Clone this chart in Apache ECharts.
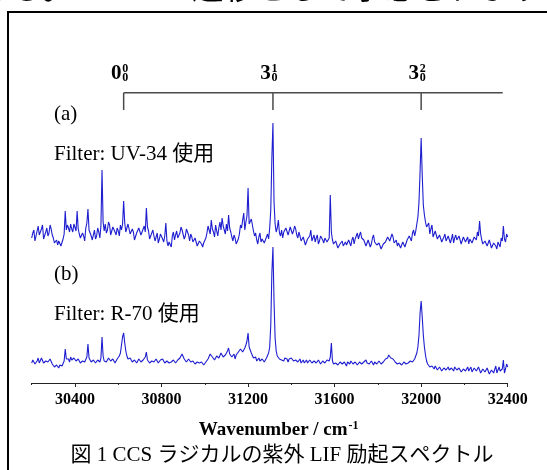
<!DOCTYPE html>
<html><head><meta charset="utf-8">
<script src="https://cdn.jsdelivr.net/npm/echarts@6/dist/echarts.min.js"></script>
<style>html,body{margin:0;padding:0;background:#fff;}#c{width:547px;height:470px;}</style>
</head><body><div id="c"></div>
<script>
// ---- data ----
const wnStart = 30200;   // first sample (cm-1)
const wnStep = 5;        // sample spacing (cm-1)
// (a) Filter: UV-34  (one row = 100 cm-1)
const spectrumA = [
 12,17,20,9,14,19,24,15,16,21,25,11,13,18,22,14,17,25,21,15,
 12,7,8,10,5,9,7,4,6,11,16,39,20,25,22,18,26,21,18,26,
 24,19,39,21,16,12,10,17,14,9,22,27,41,20,18,14,10,15,20,11,
 14,22,18,12,24,80,28,19,26,17,20,28,25,15,17,23,22,18,15,22,
 19,14,25,20,26,49,27,18,20,26,24,16,14,21,18,10,12,17,16,22,
 20,15,13,21,24,18,42,23,19,11,12,17,20,14,9,13,17,7,11,16,
 15,11,8,14,27,9,4,8,6,3,14,18,10,15,19,12,13,17,23,20,
 18,11,14,21,20,15,9,16,13,8,6,12,11,4,5,9,10,6,3,7,
 8,12,17,24,22,16,30,21,18,13,25,19,14,22,28,20,32,24,20,16,
 26,19,35,22,18,13,9,15,12,6,7,11,16,25,22,30,37,20,28,34,
 62,26,24,31,30,19,14,17,10,6,13,17,8,11,12,7,9,13,16,11,
 22,40,92,127,48,26,18,22,30,17,14,20,12,18,16,22,20,15,17,23,
 23,16,19,24,21,15,12,18,14,9,8,13,12,5,7,11,10,14,20,9,
 11,15,8,12,15,6,9,14,13,10,7,12,14,8,10,12,55,18,10,6,
 5,9,7,2,3,6,6,9,4,3,8,5,5,10,7,4,10,13,6,11,
 14,17,11,15,18,12,13,10,8,4,5,10,9,3,6,12,15,8,9,5,
 3,7,5,1,2,6,4,8,10,13,15,9,11,16,13,7,8,10,4,7,
 6,2,3,8,7,3,4,10,9,14,12,9,17,20,14,19,26,33,48,78,
 112,75,45,35,28,23,22,27,16,21,25,13,12,19,18,11,9,15,14,8,
 10,13,16,9,8,14,13,7,11,16,7,12,15,10,9,14,12,6,8,13,
 14,8,10,13,6,11,12,7,9,13,15,10,18,14,29,16,10,6,4,9,
 8,4,2,10,6,2,3,7,9,4,1,8,7,3,12,9,24,11,8,16,
 13
];
// (b) Filter: R-70  (one row = 100 cm-1)
const spectrumB = [
 20,23,24,19,19,22,25,20,21,25,23,20,19,22,24,21,20,24,22,19,
 18,16,17,18,16,15,18,17,17,19,22,34,24,23,24,21,26,23,22,25,
 25,22,21,24,23,20,20,22,24,21,22,26,39,25,23,21,21,23,24,20,
 20,23,22,21,25,46,27,22,24,21,22,25,26,22,21,24,24,20,22,24,
 24,27,30,38,46,50,40,32,27,24,22,25,24,21,20,23,23,20,21,24,
 24,21,20,23,25,26,31,23,22,20,19,22,23,21,20,24,24,20,21,23,
 22,24,25,20,19,22,23,20,18,21,20,23,24,20,21,23,23,25,26,29,
 30,24,22,21,20,24,23,21,19,22,21,19,18,21,22,20,19,21,20,18,
 18,21,22,24,25,29,30,26,26,23,24,27,28,25,26,30,29,26,25,28,
 30,32,35,29,28,26,26,29,24,28,27,31,30,34,36,31,33,35,38,42,
 50,36,33,30,28,25,24,26,22,24,25,22,21,24,23,21,22,25,26,30,
 36,58,110,136,82,45,32,27,26,24,26,23,25,22,25,23,24,21,24,22,
 25,23,22,24,23,21,21,23,24,20,22,23,20,22,23,20,21,23,22,20,
 20,22,23,20,21,23,22,19,19,22,22,20,20,23,21,22,26,40,22,19,
 18,20,21,18,19,21,22,19,18,21,20,17,21,20,19,22,22,19,18,21,
 21,18,19,21,22,19,18,21,21,23,20,18,19,21,22,20,18,21,20,19,
 19,22,21,19,18,21,22,24,26,25,28,27,25,26,24,22,21,23,19,20,
 20,18,18,20,21,19,19,21,20,22,22,20,21,23,24,27,30,36,48,70,
 82,66,48,36,28,22,19,17,16,18,17,15,14,17,16,13,13,16,15,12,
 12,15,16,13,14,16,13,11,15,14,12,16,16,13,13,15,14,11,11,14,
 15,12,13,16,12,14,16,11,11,15,14,12,12,16,15,10,10,14,13,11,
 11,15,14,9,9,13,15,10,12,17,10,8,16,12,11,14,23,10,14,19,
 16
];
const xMajorTicks = [30400, 30800, 31200, 31600, 32000, 32400];
const xMinorTicks = [30200, 30600, 31000, 31400, 31800, 32200];
// vibronic assignments (bracket)
const assignPos = [30625, 31315, 32000];
const assignMain = ['0', '3', '3'];
const assignSup = ['0', '1', '2'];
const assignSub = ['0', '0', '0'];
const bracketEnd = 32377;
// texts
const textTopCut = 'ある。 2  ←  2  遷移として予想されます';
const labelA = '(a)';
const filterA = 'Filter: UV-34 使用';
const labelB = '(b)';
const filterB = 'Filter: R-70 使用';
const axisTitle = 'Wavenumber / cm';
const axisTitleSup = '-1';
const caption = '図 1 CCS ラジカルの紫外 LIF 励起スペクトル';

// ---- chart ----
const SERIF = '"Liberation Serif","Noto Sans CJK JP"';
const toPairs = arr => arr.map((v, i) => [wnStart + i * wnStep, v]);
const lineColor = '#1e1ed0';
const gridLeft = 31.7, gridWidth = 476;

const chart = echarts.init(document.getElementById('c'), null, {renderer: 'canvas'});
chart.setOption({
  animation: false,
  backgroundColor: '#fff',
  grid: [
    {left: gridLeft, width: gridWidth, top: 92.8, height: 17.2},
    {left: gridLeft, width: gridWidth, top: 120, height: 130},
    {left: gridLeft, width: gridWidth, top: 243, height: 140}
  ],
  xAxis: [
    {gridIndex: 0, type: 'value', min: 30200, max: 32400, show: false},
    {gridIndex: 1, type: 'value', min: 30200, max: 32400, show: false},
    {gridIndex: 2, type: 'value', min: 30200, max: 32400, position: 'bottom',
      axisLine: {show: true, lineStyle: {color: '#222', width: 1}},
      axisTick: {show: true, customValues: xMajorTicks, length: 4, inside: false, lineStyle: {color: '#222', width: 1}},
      axisLabel: {show: true, customValues: xMajorTicks, formatter: v => String(v),
        color: '#000', fontFamily: '"Liberation Serif"', fontWeight: 'bold', fontSize: 16, margin: 9},
      splitLine: {show: false},
      name: '{t|' + axisTitle + '}{s|' + axisTitleSup + '}',
      nameLocation: 'middle', nameGap: 37,
      nameTextStyle: {
        padding: [0, 0, 0, 18],
        rich: {
          t: {fontFamily: '"Liberation Serif"', fontWeight: 'bold', fontSize: 19, color: '#000', lineHeight: 21},
          s: {fontFamily: '"Liberation Serif"', fontWeight: 'bold', fontSize: 12, color: '#000', verticalAlign: 'top', lineHeight: 21, padding: [0, 0, 6, 1]}
        }
      }
    },
    {gridIndex: 2, type: 'value', min: 30200, max: 32400, position: 'bottom',
      axisLine: {show: false},
      axisTick: {show: true, customValues: xMinorTicks, length: 2, inside: false, lineStyle: {color: '#222', width: 1}},
      axisLabel: {show: false},
      splitLine: {show: false}
    }
  ],
  yAxis: [
    {gridIndex: 0, type: 'value', min: 0, max: 1, show: false},
    {gridIndex: 1, type: 'value', min: 0, max: 130, show: false},
    {gridIndex: 2, type: 'value', min: 0, max: 140, show: false}
  ],
  series: [
    {
      type: 'custom', xAxisIndex: 0, yAxisIndex: 0, silent: true,
      data: assignPos.map(w => [w, 1]),
      renderItem: function (params, api) {
        const i = params.dataIndex;
        const w = api.value(0);
        const top = api.coord([w, 1]);
        const bot = api.coord([w, 0]);
        const stroke = {stroke: '#4a4a4a', lineWidth: 1.5};
        const ch = [{type: 'line', shape: {x1: top[0], y1: top[1], x2: bot[0], y2: bot[1]}, style: stroke}];
        if (i === 0) {
          const end = api.coord([bracketEnd, 1]);
          ch.push({type: 'line', shape: {x1: top[0], y1: top[1], x2: end[0], y2: end[1]}, style: stroke});
        }
        ch.push({type: 'text', x: top[0] - 7.5, y: top[1] - 19, style: {text: assignMain[i], font: 'bold 21px "Liberation Serif"', align: 'center', verticalAlign: 'middle', fill: '#000'}});
        ch.push({type: 'text', x: top[0] + 1.5, y: top[1] - 24, style: {text: assignSup[i], font: 'bold 12px "Liberation Serif"', align: 'center', verticalAlign: 'middle', fill: '#000'}});
        ch.push({type: 'text', x: top[0] + 1.5, y: top[1] - 15, style: {text: assignSub[i], font: 'bold 12px "Liberation Serif"', align: 'center', verticalAlign: 'middle', fill: '#000'}});
        return {type: 'group', children: ch};
      }
    },
    {type: 'line', xAxisIndex: 1, yAxisIndex: 1, data: toPairs(spectrumA), showSymbol: false, silent: true,
      lineStyle: {color: lineColor, width: 1.1}},
    {type: 'line', xAxisIndex: 2, yAxisIndex: 2, data: toPairs(spectrumB), showSymbol: false, silent: true,
      lineStyle: {color: lineColor, width: 1.1}}
  ],
  graphic: [
    {type: 'text', left: -22, top: -29, silent: true,
      style: {text: textTopCut, font: '32px "Noto Sans CJK JP"', fill: '#000'}},
    {type: 'rect', silent: true, shape: {x: 8, y: 12, width: 600, height: 520},
      style: {fill: 'none', stroke: '#000', lineWidth: 2}},
    {type: 'text', x: 54, y: 114.4, silent: true,
      style: {text: labelA, font: '21px ' + SERIF, fill: '#000', verticalAlign: 'middle'}},
    {type: 'text', x: 54, y: 154.4, silent: true,
      style: {text: filterA, font: '21px ' + SERIF, fill: '#000', verticalAlign: 'middle'}},
    {type: 'text', x: 54, y: 274, silent: true,
      style: {text: labelB, font: '21px ' + SERIF, fill: '#000', verticalAlign: 'middle'}},
    {type: 'text', x: 54, y: 314, silent: true,
      style: {text: filterB, font: '21px ' + SERIF, fill: '#000', verticalAlign: 'middle'}},
    {type: 'text', x: 282, y: 455, silent: true,
      style: {text: caption, font: '21px ' + SERIF, fill: '#000', align: 'center', verticalAlign: 'middle'}}
  ]
});
</script>
</body></html>
